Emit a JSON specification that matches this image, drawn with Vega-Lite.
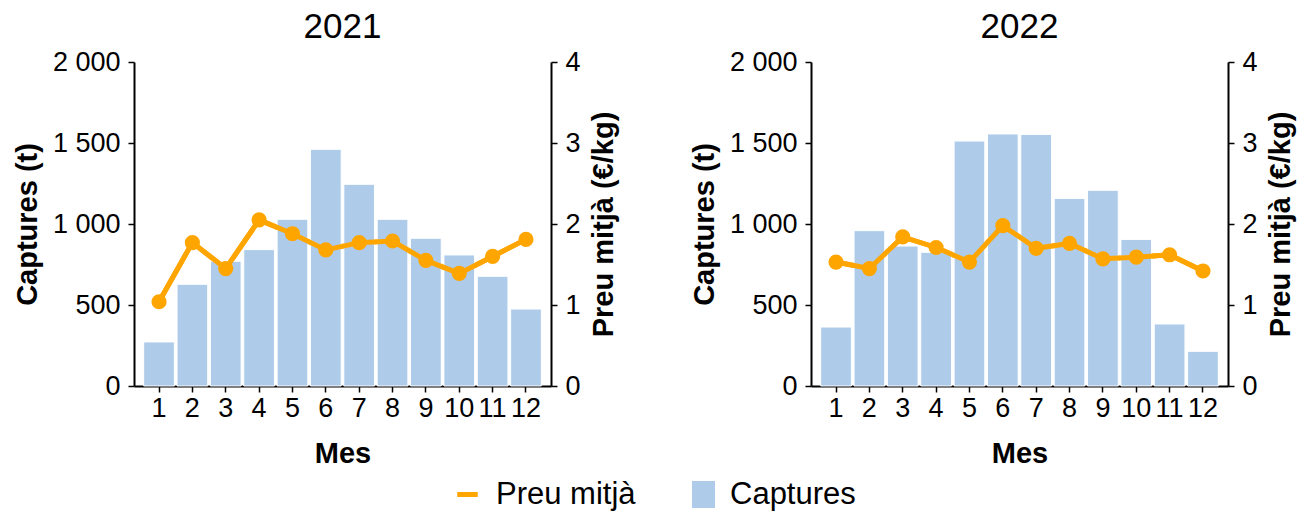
{
  "$schema": "https://vega.github.io/schema/vega-lite/v6.json",
  "background": "white",
  "padding": {"left": 13, "top": 10, "right": 5, "bottom": 2},
  "config": {
    "font": "Liberation Sans",
    "view": {"stroke": null},
    "axis": {
      "grid": false,
      "domainColor": "black",
      "domainWidth": 2,
      "tickColor": "black",
      "tickWidth": 1.5,
      "tickSize": 6,
      "labelFont": "Liberation Sans",
      "labelFontSize": 27,
      "labelColor": "black",
      "labelPadding": 8,
      "titleFont": "Liberation Sans",
      "titleFontSize": 29,
      "titleFontWeight": "bold",
      "titleColor": "black"
    },
    "axisX": {"labelAngle": 0, "labelPadding": 3, "titlePadding": 18, "labelBaseline": "top", "labelAlign": "center"},
    "title": {"font": "Liberation Sans", "fontSize": 35, "fontWeight": "normal", "color": "black", "offset": 3},
    "legend": {
      "labelFont": "Liberation Sans", "labelFontSize": 31, "labelColor": "black", "offset": 11,
      "layout": {"bottom": {"anchor": "middle", "direction": "horizontal", "margin": 52}}
    }
  },
  "data": {
    "values": [
      {"any": 2021, "mes": 1, "captures": 272, "preu": 1.04},
      {"any": 2021, "mes": 2, "captures": 628, "preu": 1.77},
      {"any": 2021, "mes": 3, "captures": 770, "preu": 1.45},
      {"any": 2021, "mes": 4, "captures": 842, "preu": 2.05},
      {"any": 2021, "mes": 5, "captures": 1029, "preu": 1.88},
      {"any": 2021, "mes": 6, "captures": 1461, "preu": 1.68},
      {"any": 2021, "mes": 7, "captures": 1245, "preu": 1.77},
      {"any": 2021, "mes": 8, "captures": 1029, "preu": 1.79},
      {"any": 2021, "mes": 9, "captures": 912, "preu": 1.55},
      {"any": 2021, "mes": 10, "captures": 809, "preu": 1.39},
      {"any": 2021, "mes": 11, "captures": 677, "preu": 1.60},
      {"any": 2021, "mes": 12, "captures": 475, "preu": 1.81},
      {"any": 2022, "mes": 1, "captures": 364, "preu": 1.53},
      {"any": 2022, "mes": 2, "captures": 959, "preu": 1.45},
      {"any": 2022, "mes": 3, "captures": 864, "preu": 1.84},
      {"any": 2022, "mes": 4, "captures": 825, "preu": 1.71},
      {"any": 2022, "mes": 5, "captures": 1512, "preu": 1.53},
      {"any": 2022, "mes": 6, "captures": 1556, "preu": 1.98},
      {"any": 2022, "mes": 7, "captures": 1553, "preu": 1.70},
      {"any": 2022, "mes": 8, "captures": 1158, "preu": 1.76},
      {"any": 2022, "mes": 9, "captures": 1208, "preu": 1.57},
      {"any": 2022, "mes": 10, "captures": 905, "preu": 1.59},
      {"any": 2022, "mes": 11, "captures": 383, "preu": 1.62},
      {"any": 2022, "mes": 12, "captures": 214, "preu": 1.42}
    ]
  },
  "spacing": 71,
  "resolve": {"scale": {"color": "shared", "fill": "shared"}, "legend": {"color": "shared", "fill": "shared"}},
  "hconcat": [
    {
      "title": "2021",
      "width": 417,
      "height": 324,
      "transform": [{"filter": "datum.any == 2021"}],
      "resolve": {"scale": {"y": "independent"}},
      "layer": [
        {
          "mark": {"type": "line", "strokeWidth": 5},
          "encoding": {
            "x": {"field": "mes", "type": "ordinal", "scale": {"paddingInner": 0.08, "paddingOuter": 0.29}, "axis": {"title": "Mes", "labelAngle": 0, "labelPadding": 3, "titlePadding": 18}},
            "y": {"field": "preu", "type": "quantitative", "scale": {"domain": [0, 4]}, "axis": {"orient": "right", "title": "Preu mitjà (€/kg)", "values": [0, 1, 2, 3, 4], "format": "d", "titleAngle": 270, "titleBaseline": "top", "titlePadding": 9}},
            "color": {"datum": "Preu mitjà", "scale": {"domain": ["Preu mitjà"], "range": ["#FFA500"]}, "legend": {"title": null, "orient": "bottom", "symbolType": "stroke", "symbolSize": 420, "symbolStrokeWidth": 5, "labelOffset": 13}}
          }
        },
        {
          "mark": {"type": "bar", "stroke": "white", "strokeWidth": 1},
          "encoding": {
            "x": {"field": "mes", "type": "ordinal", "scale": {"paddingInner": 0.08, "paddingOuter": 0.29}, "axis": {"title": "Mes", "labelAngle": 0, "labelPadding": 3, "titlePadding": 18}},
            "y": {"field": "captures", "type": "quantitative", "scale": {"domain": [0, 2000]}, "axis": {"orient": "left", "title": "Captures (t)", "values": [0, 500, 1000, 1500, 2000], "labelExpr": "replace(format(datum.value, ','), ',', ' ')", "titlePadding": 10}},
            "fill": {"datum": "Captures", "scale": {"domain": ["Captures"], "range": ["#aecbea"]}, "legend": {"title": null, "orient": "bottom", "symbolType": "M-0.85,-1H0.85V1H-0.85Z", "symbolSize": 729, "symbolStrokeWidth": 0, "labelOffset": 11}}
          }
        },
        {
          "mark": {"type": "line", "strokeWidth": 5, "color": "#FFA500"},
          "encoding": {
            "x": {"field": "mes", "type": "ordinal", "scale": {"paddingInner": 0.08, "paddingOuter": 0.29}, "axis": {"title": "Mes", "labelAngle": 0, "labelPadding": 3, "titlePadding": 18}},
            "y": {"field": "preu", "type": "quantitative", "scale": {"domain": [0, 4]}, "axis": null}
          }
        },
        {
          "mark": {"type": "point", "filled": true, "size": 230, "opacity": 1, "color": "#FFA500"},
          "encoding": {
            "x": {"field": "mes", "type": "ordinal", "scale": {"paddingInner": 0.08, "paddingOuter": 0.29}, "axis": {"title": "Mes", "labelAngle": 0, "labelPadding": 3, "titlePadding": 18}},
            "y": {"field": "preu", "type": "quantitative", "scale": {"domain": [0, 4]}, "axis": null}
          }
        }
      ]
    },
    {
      "title": "2022",
      "width": 417,
      "height": 324,
      "transform": [{"filter": "datum.any == 2022"}],
      "resolve": {"scale": {"y": "independent"}},
      "layer": [
        {
          "mark": {"type": "line", "strokeWidth": 5},
          "encoding": {
            "x": {"field": "mes", "type": "ordinal", "scale": {"paddingInner": 0.08, "paddingOuter": 0.29}, "axis": {"title": "Mes", "labelAngle": 0, "labelPadding": 3, "titlePadding": 18}},
            "y": {"field": "preu", "type": "quantitative", "scale": {"domain": [0, 4]}, "axis": {"orient": "right", "title": "Preu mitjà (€/kg)", "values": [0, 1, 2, 3, 4], "format": "d", "titleAngle": 270, "titleBaseline": "top", "titlePadding": 9}},
            "color": {"datum": "Preu mitjà"}
          }
        },
        {
          "mark": {"type": "bar", "stroke": "white", "strokeWidth": 1},
          "encoding": {
            "x": {"field": "mes", "type": "ordinal", "scale": {"paddingInner": 0.08, "paddingOuter": 0.29}, "axis": {"title": "Mes", "labelAngle": 0, "labelPadding": 3, "titlePadding": 18}},
            "y": {"field": "captures", "type": "quantitative", "scale": {"domain": [0, 2000]}, "axis": {"orient": "left", "title": "Captures (t)", "values": [0, 500, 1000, 1500, 2000], "labelExpr": "replace(format(datum.value, ','), ',', ' ')", "titlePadding": 10}},
            "fill": {"datum": "Captures"}
          }
        },
        {
          "mark": {"type": "line", "strokeWidth": 5, "color": "#FFA500"},
          "encoding": {
            "x": {"field": "mes", "type": "ordinal", "scale": {"paddingInner": 0.08, "paddingOuter": 0.29}, "axis": {"title": "Mes", "labelAngle": 0, "labelPadding": 3, "titlePadding": 18}},
            "y": {"field": "preu", "type": "quantitative", "scale": {"domain": [0, 4]}, "axis": null}
          }
        },
        {
          "mark": {"type": "point", "filled": true, "size": 230, "opacity": 1, "color": "#FFA500"},
          "encoding": {
            "x": {"field": "mes", "type": "ordinal", "scale": {"paddingInner": 0.08, "paddingOuter": 0.29}, "axis": {"title": "Mes", "labelAngle": 0, "labelPadding": 3, "titlePadding": 18}},
            "y": {"field": "preu", "type": "quantitative", "scale": {"domain": [0, 4]}, "axis": null}
          }
        }
      ]
    }
  ]
}
